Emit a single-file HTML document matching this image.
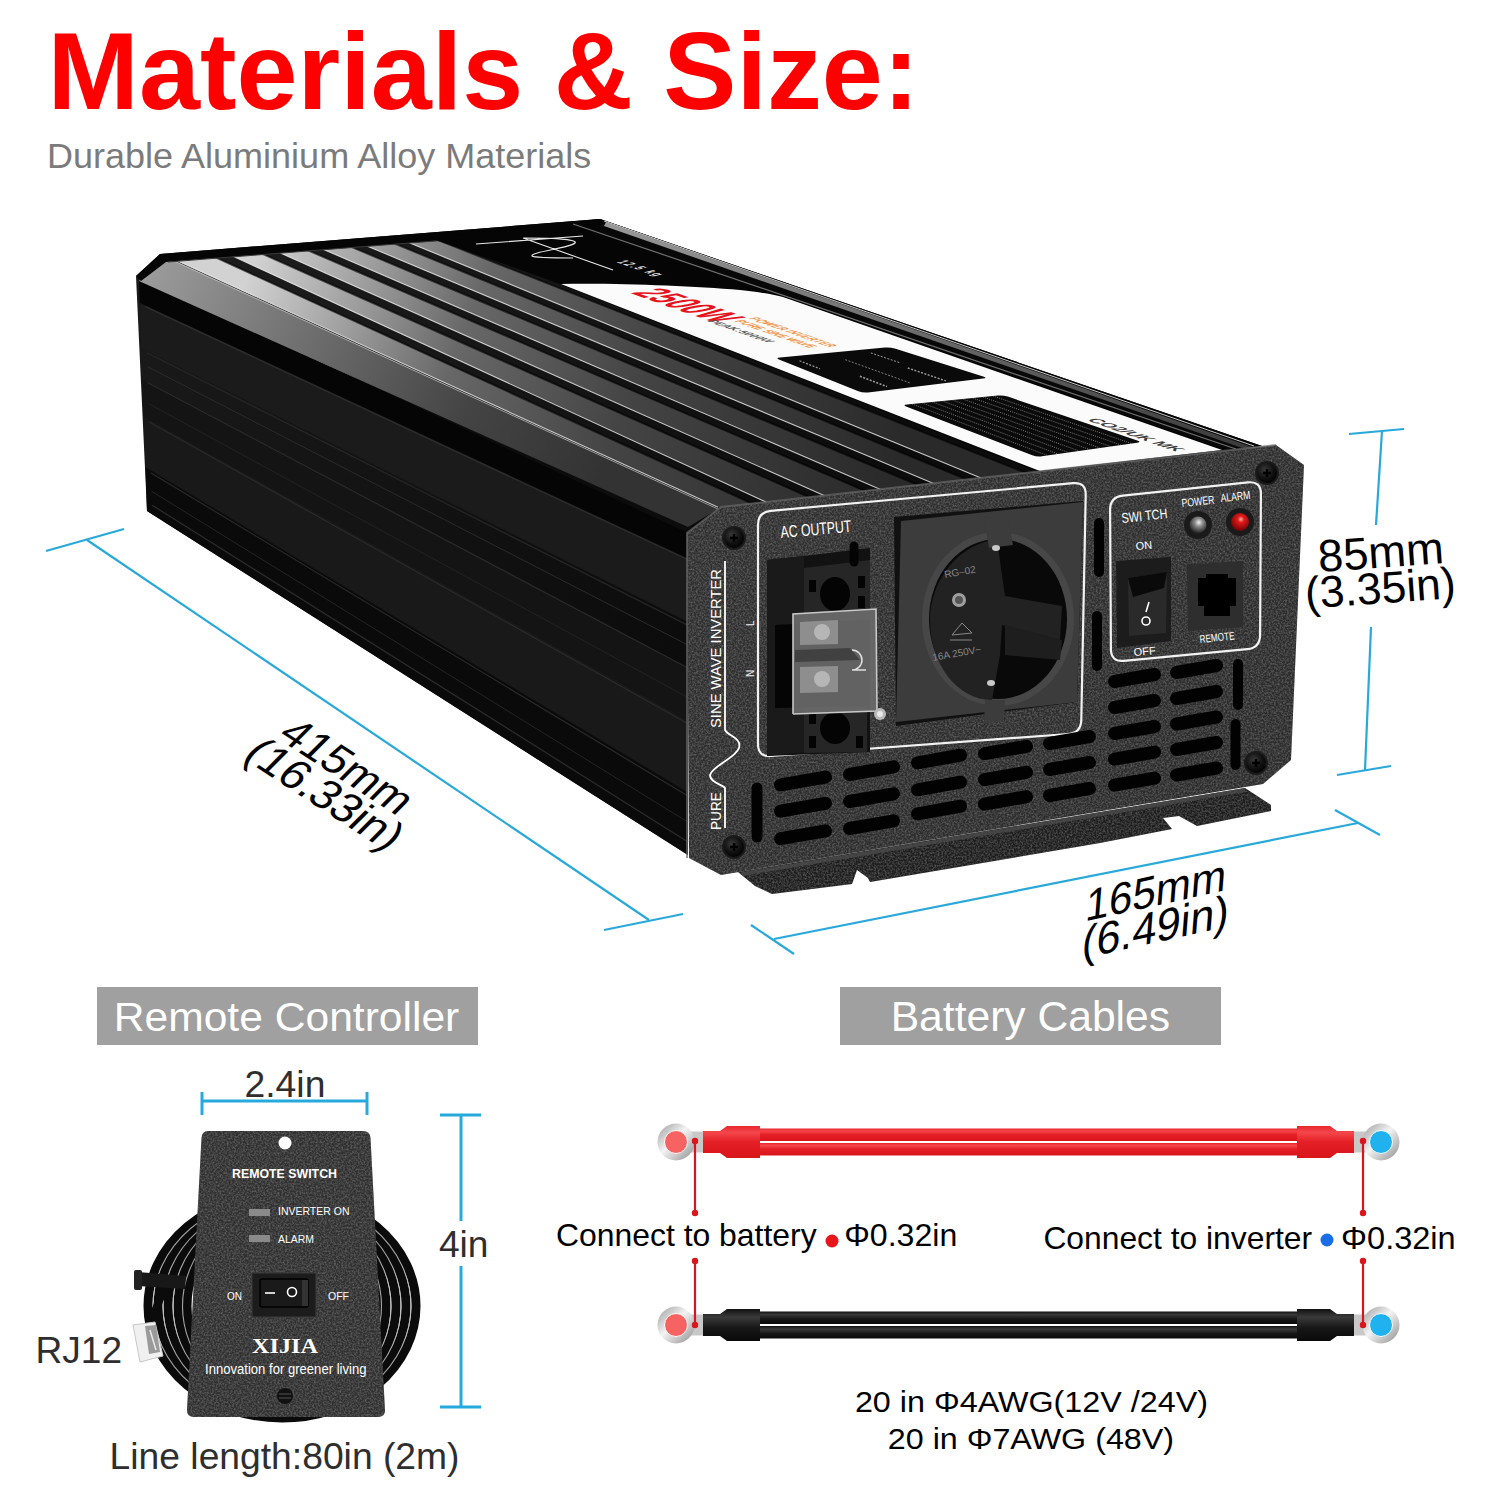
<!DOCTYPE html>
<html><head><meta charset="utf-8"><title>Materials &amp; Size</title>
<style>html,body{margin:0;padding:0;background:#fff;width:1500px;height:1500px;overflow:hidden}
svg{display:block;font-family:"Liberation Sans",sans-serif}</style></head>
<body><svg width="1500" height="1500" viewBox="0 0 1500 1500"><defs>
<linearGradient id="gSide" x1="0" y1="0" x2="1" y2="0.6">
 <stop offset="0" stop-color="#1a1a1a"/><stop offset="1" stop-color="#0c0c0c"/></linearGradient>
<linearGradient id="gPanel" x1="0" y1="0" x2="1" y2="1">
 <stop offset="0" stop-color="#2f2f2f"/><stop offset="1" stop-color="#2a2a2a"/></linearGradient>
<radialGradient id="gScrew" cx="0.4" cy="0.35" r="0.7">
 <stop offset="0" stop-color="#3a3a3a"/><stop offset="0.6" stop-color="#111"/><stop offset="1" stop-color="#000"/></radialGradient>
<linearGradient id="gRing" x1="0" y1="0" x2="1" y2="1">
 <stop offset="0" stop-color="#9a9a9a"/><stop offset="0.45" stop-color="#f4f4f4"/><stop offset="1" stop-color="#8d8d8d"/></linearGradient>
<linearGradient id="gRed" x1="0" y1="0" x2="0" y2="1">
 <stop offset="0" stop-color="#e8262c"/><stop offset="0.2" stop-color="#f4474b"/><stop offset="0.5" stop-color="#e41f25"/><stop offset="1" stop-color="#d8151b"/></linearGradient>
<linearGradient id="gBlk" x1="0" y1="0" x2="0" y2="1">
 <stop offset="0" stop-color="#111"/><stop offset="0.25" stop-color="#3a3a3a"/><stop offset="0.6" stop-color="#161616"/><stop offset="1" stop-color="#0a0a0a"/></linearGradient>
<radialGradient id="gRedLed" cx="0.55" cy="0.35" r="0.6">
 <stop offset="0" stop-color="#ffb0a0"/><stop offset="0.3" stop-color="#e31a1a"/><stop offset="1" stop-color="#7a0505"/></radialGradient>
<radialGradient id="gSilLed" cx="0.55" cy="0.35" r="0.6">
 <stop offset="0" stop-color="#f0f0f0"/><stop offset="0.4" stop-color="#8a8a8a"/><stop offset="1" stop-color="#2a2a2a"/></radialGradient>
<filter id="noise" x="0" y="0" width="100%" height="100%" color-interpolation-filters="sRGB">
 <feTurbulence type="fractalNoise" baseFrequency="0.55" numOctaves="2" seed="3" result="n"/>
 <feColorMatrix in="n" type="matrix" values="0 0 0 0 0.6  0 0 0 0 0.6  0 0 0 0 0.6  0 0 0 1 0" result="m0"/>
 <feComponentTransfer in="m0" result="m"><feFuncA type="linear" slope="0.9" intercept="-0.3"/></feComponentTransfer>
 <feComposite in="m" in2="SourceAlpha" operator="in" result="c"/>
 <feMerge><feMergeNode in="SourceGraphic"/><feMergeNode in="c"/></feMerge>
</filter>
</defs>
<text x="47.6" y="109.0" font-family="Liberation Sans" font-weight="bold" font-size="110.0" fill="#fe0000" textLength="871.8" lengthAdjust="spacingAndGlyphs">Materials &amp; Size:</text>
<text x="47.0" y="168.0" font-family="Liberation Sans" font-size="34.5" fill="#7b7b7b" textLength="544.2" lengthAdjust="spacingAndGlyphs">Durable Aluminium Alloy Materials</text>
<polygon points="136.0,276.0 147.0,511.0 688.0,855.0 688.0,533.0" fill="url(#gSide)"/>
<polygon points="139.0,281.0 688.0,527.0 688.0,558.5 139.8,303.1" fill="#050505"/>
<polygon points="139.8,303.1 688.0,558.5 688.0,622.1 141.3,347.7" fill="#1b1b1b"/>
<polygon points="142.4,379.9 688.0,668.0 688.0,720.5 143.7,416.7" fill="#141414"/>
<polygon points="143.7,416.7 688.0,720.5 688.0,792.7 145.5,467.3" fill="#191919"/>
<polygon points="145.5,467.3 688.0,792.7 688.0,855.0 147.0,511.0" fill="#0a0a0a"/>
<line x1="145.3" y1="306.6" x2="688.0" y2="559.8" stroke="#2e2e2e" stroke-width="1.2"/>
<line x1="146.9" y1="352.8" x2="688.0" y2="625.4" stroke="#262626" stroke-width="1.2"/>
<line x1="147.3" y1="366.6" x2="688.0" y2="645.1" stroke="#2a2a2a" stroke-width="1"/>
<line x1="147.9" y1="382.8" x2="688.0" y2="668.0" stroke="#2a2a2a" stroke-width="1.2"/>
<line x1="148.6" y1="403.6" x2="688.0" y2="697.6" stroke="#222" stroke-width="1"/>
<line x1="149.2" y1="422.0" x2="688.0" y2="723.8" stroke="#2a2a2a" stroke-width="1.2"/>
<line x1="151.0" y1="472.9" x2="688.0" y2="796.0" stroke="#2a2a2a" stroke-width="1.2"/>
<line x1="151.6" y1="491.3" x2="688.0" y2="822.2" stroke="#242424" stroke-width="1"/>
<line x1="152.1" y1="505.2" x2="688.0" y2="841.9" stroke="#2c2c2c" stroke-width="1.2"/>
<polygon points="136.0,276.0 160.0,254.0 600.0,219.0 1262.0,446.0 688.0,533.0" fill="#0c0c0c"/>
<linearGradient id="gFin" gradientUnits="userSpaceOnUse" x1="260" y1="245" x2="880" y2="500"><stop offset="0" stop-color="#d2d2d2"/><stop offset="0.14" stop-color="#a6a6a6"/><stop offset="0.33" stop-color="#686868"/><stop offset="0.6" stop-color="#444"/><stop offset="1" stop-color="#2a2a2a"/></linearGradient>
<linearGradient id="gFin0" gradientUnits="userSpaceOnUse" x1="150" y1="262" x2="600" y2="480"><stop offset="0" stop-color="#9c9c9c"/><stop offset="0.4" stop-color="#686868"/><stop offset="0.7" stop-color="#444"/><stop offset="1" stop-color="#333"/></linearGradient>
<linearGradient id="gGroove" gradientUnits="userSpaceOnUse" x1="260" y1="245" x2="880" y2="500"><stop offset="0" stop-color="#1c1c1c"/><stop offset="1" stop-color="#0c0c0c"/></linearGradient>
<polygon points="164.0,256.0 430.0,233.5 1036.0,471.8 718.0,509.0" fill="url(#gGroove)"/>
<polygon points="139.0,281.0 164.0,256.0 718.0,509.0 688.0,527.0" fill="url(#gFin0)"/>
<line x1="164" y1="256.5" x2="718" y2="509" stroke="#d0d0d0" stroke-width="1" opacity="0.7"/>
<polygon points="164.0,254.7 203.0,251.6 752.0,503.5 718.0,507.3" fill="url(#gFin)"/>
<line x1="164.0" y1="254.7" x2="718.0" y2="507.3" stroke="#f0f0f0" stroke-width="1.1" opacity="0.8"/>
<line x1="203.0" y1="251.6" x2="752.0" y2="503.5" stroke="#000" stroke-width="2" opacity="0.6"/>
<polygon points="220.0,250.2 249.0,247.9 809.0,497.2 766.0,502.0" fill="url(#gFin)"/>
<line x1="220.0" y1="250.2" x2="766.0" y2="502.0" stroke="#f0f0f0" stroke-width="1.1" opacity="0.8"/>
<line x1="249.0" y1="247.9" x2="809.0" y2="497.2" stroke="#000" stroke-width="2" opacity="0.6"/>
<polygon points="266.0,246.6 294.0,244.3 865.0,490.9 824.0,495.5" fill="url(#gFin)"/>
<line x1="266.0" y1="246.6" x2="824.0" y2="495.5" stroke="#f0f0f0" stroke-width="1.1" opacity="0.8"/>
<line x1="294.0" y1="244.3" x2="865.0" y2="490.9" stroke="#000" stroke-width="2" opacity="0.6"/>
<polygon points="309.0,243.2 337.0,240.9 918.0,485.0 880.0,489.2" fill="url(#gFin)"/>
<line x1="309.0" y1="243.2" x2="880.0" y2="489.2" stroke="#f0f0f0" stroke-width="1.1" opacity="0.8"/>
<line x1="337.0" y1="240.9" x2="918.0" y2="485.0" stroke="#000" stroke-width="2" opacity="0.6"/>
<polygon points="352.0,239.7 380.0,237.5 967.0,479.5 933.0,483.3" fill="url(#gFin)"/>
<line x1="352.0" y1="239.7" x2="933.0" y2="483.3" stroke="#f0f0f0" stroke-width="1.1" opacity="0.8"/>
<line x1="380.0" y1="237.5" x2="967.0" y2="479.5" stroke="#000" stroke-width="2" opacity="0.6"/>
<polygon points="394.0,236.4 423.0,234.1 1026.0,472.9 981.0,478.0" fill="url(#gFin)"/>
<line x1="394.0" y1="236.4" x2="981.0" y2="478.0" stroke="#f0f0f0" stroke-width="1.1" opacity="0.8"/>
<line x1="423.0" y1="234.1" x2="1026.0" y2="472.9" stroke="#000" stroke-width="2" opacity="0.6"/>
<polygon points="136,276 160,254 600,219 602,228 166,262 141,281" fill="#050505"/>
<line x1="168" y1="262" x2="600" y2="228" stroke="#3a3a3a" stroke-width="1"/>
<polygon points="430,238 600,219 1262,446 1036,471 561,284" fill="#050505"/>
<path d="M561,284 C620,283 690,286 740,290 C760,292 775,295 783,297 L1222,450 L1040,471 Z" fill="#fbfbfb"/>
<polygon points="600,219 1254,446 1232,452 600,233" fill="#080808"/>
<linearGradient id="gRail" gradientUnits="userSpaceOnUse" x1="600" y1="220" x2="1250" y2="447"><stop offset="0" stop-color="#9a9a9a"/><stop offset="0.5" stop-color="#6a6a6a"/><stop offset="1" stop-color="#3a3a3a"/></linearGradient>
<polygon points="606,222 1252,447 1248,450 604,226" fill="url(#gRail)"/>
<line x1="604" y1="221" x2="1254" y2="446" stroke="#c8c8c8" stroke-width="1"/>
<line x1="573" y1="224" x2="1236" y2="449" stroke="#8a8a8a" stroke-width="1.2" opacity="0.8"/>
<path d="M476,244 L583,236 M523,238 L613,270 M524,238 C560,238 578,240 575,243 C570,248 530,252 532,256 C534,258 560,258 573,258" stroke="#e6e6e6" stroke-width="1.1" fill="none"/>
<text transform="matrix(1.0,0.36,-1.5,0.35,616,262)" font-family="Liberation Sans" font-weight="bold" font-size="9" fill="#e0e0e0" letter-spacing="1.5">12.5 kg</text>
<g transform="matrix(1.36,0.48,-2.2,0.42,630,293)" font-family="Liberation Sans" font-weight="bold">
<text x="0" y="0" font-size="20" fill="#e5141b">2500W</text>
<text x="65" y="-13.5" font-size="5.5" fill="#f2913e" textLength="60" lengthAdjust="spacingAndGlyphs">POWER INVERTER</text>
<text x="65" y="-7" font-size="5.5" fill="#f2913e" textLength="56" lengthAdjust="spacingAndGlyphs">PURE SINE WAVE</text>
<text x="58" y="1" font-size="5" fill="#555" textLength="45" lengthAdjust="spacingAndGlyphs">PEAK:5000W</text>
</g>
<path d="M779.6,359.8 Q775.0,358.0 780.0,357.5 L885.0,347.5 Q890.0,347.0 894.8,348.5 L983.2,376.5 Q988.0,378.0 983.0,378.6 L868.0,392.4 Q863.0,393.0 858.4,391.2 Z" fill="#0a0a0a"/>
<path d="M906.7,406.8 Q902.0,405.0 907.0,404.5 L998.0,395.5 Q1003.0,395.0 1007.7,396.6 L1137.3,440.4 Q1142.0,442.0 1137.1,442.7 L1041.9,456.3 Q1037.0,457.0 1032.3,455.2 Z" fill="#0a0a0a"/>
<line x1="912.1" y1="404.0" x2="1047.5" y2="455.5" stroke="#c8c8c8" stroke-width="0.7" stroke-dasharray="1,1.2" opacity="0.85"/>
<line x1="922.2" y1="403.0" x2="1058.0" y2="454.0" stroke="#c8c8c8" stroke-width="0.7" stroke-dasharray="1,1.2" opacity="0.85"/>
<line x1="932.3" y1="402.0" x2="1068.5" y2="452.5" stroke="#c8c8c8" stroke-width="0.7" stroke-dasharray="1,1.2" opacity="0.85"/>
<line x1="942.4" y1="401.0" x2="1079.0" y2="451.0" stroke="#c8c8c8" stroke-width="0.7" stroke-dasharray="1,1.2" opacity="0.85"/>
<line x1="952.5" y1="400.0" x2="1089.5" y2="449.5" stroke="#c8c8c8" stroke-width="0.7" stroke-dasharray="1,1.2" opacity="0.85"/>
<line x1="962.6" y1="399.0" x2="1100.0" y2="448.0" stroke="#c8c8c8" stroke-width="0.7" stroke-dasharray="1,1.2" opacity="0.85"/>
<line x1="972.7" y1="398.0" x2="1110.5" y2="446.5" stroke="#c8c8c8" stroke-width="0.7" stroke-dasharray="1,1.2" opacity="0.85"/>
<line x1="982.8" y1="397.0" x2="1121.0" y2="445.0" stroke="#c8c8c8" stroke-width="0.7" stroke-dasharray="1,1.2" opacity="0.85"/>
<line x1="992.9" y1="396.0" x2="1131.5" y2="443.5" stroke="#c8c8c8" stroke-width="0.7" stroke-dasharray="1,1.2" opacity="0.85"/>
<line x1="799.5" y1="360.8" x2="820.0" y2="368.8" stroke="#bdbdbd" stroke-width="1.2" stroke-dasharray="2,1.5" opacity="0.8"/>
<line x1="845.2" y1="359.7" x2="910.0" y2="382.9" stroke="#bdbdbd" stroke-width="0.8" stroke-dasharray="2,1.5" opacity="0.8"/>
<line x1="907.8" y1="368.0" x2="945.8" y2="380.9" stroke="#bdbdbd" stroke-width="1.4" stroke-dasharray="2,1.5" opacity="0.8"/>
<line x1="870.8" y1="352.9" x2="899.5" y2="362.6" stroke="#bdbdbd" stroke-width="1.0" stroke-dasharray="2,1.5" opacity="0.8"/>
<line x1="859.9" y1="376.3" x2="887.0" y2="386.5" stroke="#bdbdbd" stroke-width="1.6" stroke-dasharray="2,1.5" opacity="0.8"/>
<text transform="matrix(1.36,0.48,-2.2,0.42,1086,420)" font-family="Liberation Sans" font-weight="bold" font-size="7" fill="#3c3c3c" textLength="66" lengthAdjust="spacingAndGlyphs">CO2/UK MK</text>
<polygon points="738.0,872.0 1245.0,788.0 1271.0,805.0 1271.0,811.0 1197.0,826.0 1179.0,816.0 1163.0,818.0 1172.0,829.0 1100.0,843.0 870.0,882.0 868.0,878.0 857.0,870.0 852.0,884.0 772.0,894.0 755.0,886.0" fill="#1c1c1c" filter="url(#noise)"/>
<polyline points="742,874 1245,790" stroke="#4a4a4a" stroke-width="4" fill="none" opacity="0.8"/>
<polygon points="687.0,533.0 721.0,507.0 1276.0,445.0 1304.0,465.0 1291.0,760.0 1263.0,784.0 721.0,875.0 689.0,858.0" fill="url(#gPanel)" filter="url(#noise)"/>
<polyline points="687,858 687,533 721,507 1276,445" stroke="#6a6a6a" stroke-width="2" fill="none" opacity="0.7"/>
<circle cx="734" cy="538" r="12" fill="#1a1a1a"/><circle cx="734" cy="538" r="10" fill="url(#gScrew)"/>
<path d="M730,538 h8 M734,534 v8" stroke="#000" stroke-width="2.5"/>
<circle cx="1267" cy="473" r="12" fill="#1a1a1a"/><circle cx="1267" cy="473" r="10" fill="url(#gScrew)"/>
<path d="M1263,473 h8 M1267,469 v8" stroke="#000" stroke-width="2.5"/>
<circle cx="734" cy="847" r="12" fill="#1a1a1a"/><circle cx="734" cy="847" r="10" fill="url(#gScrew)"/>
<path d="M730,847 h8 M734,843 v8" stroke="#000" stroke-width="2.5"/>
<circle cx="1256" cy="763" r="12" fill="#1a1a1a"/><circle cx="1256" cy="763" r="10" fill="url(#gScrew)"/>
<path d="M1252,763 h8 M1256,759 v8" stroke="#000" stroke-width="2.5"/>
<path d="M758.0,525.0 Q758.0,512.0 770.9,510.8 L1073.1,483.2 Q1086.0,482.0 1085.7,495.0 L1081.3,720.0 Q1081.0,733.0 1068.0,734.0 L771.0,756.0 Q758.0,757.0 758.0,744.0 Z" fill="none" stroke="#f2f2f2" stroke-width="2.2"/>
<text transform="translate(781,538) rotate(-5)" font-family="Liberation Sans" font-size="17" fill="#fff" textLength="71" lengthAdjust="spacingAndGlyphs">AC  OUTPUT</text>
<polygon points="767,560 804,556 870,548 870,752 767,756" fill="#121212"/>
<polygon points="767,560 804,556 804,752 767,756" fill="#1a1a1a"/>
<polygon points="804,568 870,560 870,620 804,622" fill="#262626"/>
<polygon points="804,706 867,703 867,752 804,753" fill="#262626"/>
<ellipse cx="835" cy="594" rx="15" ry="17" fill="#040404"/><ellipse cx="835" cy="728" rx="15" ry="16" fill="#040404"/>
<rect x="809" y="580" width="7" height="12" fill="#040404"/><rect x="858" y="576" width="7" height="12" fill="#040404"/><rect x="858" y="596" width="7" height="12" fill="#040404"/>
<rect x="809" y="736" width="7" height="12" fill="#040404"/><rect x="856" y="736" width="7" height="12" fill="#040404"/><rect x="809" y="714" width="7" height="10" fill="#040404"/>
<polygon points="775,625 870,620 870,706 775,708" fill="#050505"/>
<line x1="854" y1="546" x2="854" y2="562" stroke="#040404" stroke-width="9" stroke-linecap="round"/>
<polygon points="793,614 876,609 877,711 793,714" fill="#6a6a6a" opacity="0.92"/>
<polyline points="793,714 793,614 876,609 877,711 793,714" fill="none" stroke="#c8c8c8" stroke-width="1.6"/>
<polygon points="800,622 838,620 838,644 800,645" fill="#9a9a9a" opacity="0.8"/><polygon points="800,667 838,666 838,692 800,693" fill="#9a9a9a" opacity="0.8"/>
<circle cx="822" cy="632" r="8" fill="#c0c0c0" opacity="0.8"/><circle cx="822" cy="679" r="8" fill="#c0c0c0" opacity="0.8"/>
<polygon points="795,650 850,648 860,660 795,662" fill="#3a3a3a" opacity="0.8"/>
<path d="M852,650 a10,10 0 1 1 0,20 h14" stroke="#e0e0e0" stroke-width="1.5" fill="none"/>
<circle cx="880" cy="714" r="6" fill="#b8b8b8"/><circle cx="880" cy="714" r="3" fill="#e8e8e8"/>
<text transform="translate(754,626) rotate(-90)" font-family="Liberation Sans" font-size="10" fill="#eee">L</text>
<text transform="translate(754,677) rotate(-90)" font-family="Liberation Sans" font-size="10" fill="#eee">N</text>
<polygon points="894,517 1083,501 1077,702 896,726" fill="#111"/>
<polygon points="901,521 1083,502 1077,702 896,722" fill="#3c3c3c"/>
<ellipse cx="998" cy="619" rx="76" ry="87" fill="#474747"/>
<ellipse cx="998" cy="619" rx="69" ry="80" fill="#090909"/>
<path d="M997,540 C960,542 930,580 930,620 C930,665 958,700 992,700 L1000,655 L1002,625 L1060,640 L1062,606 L1005,596 Z" fill="#222"/>
<polygon points="984,518 1008,516 1013,545 989,548" fill="#3c3c3c"/>
<polygon points="985,700 1005,700 1004,720 984,723" fill="#3c3c3c"/>
<polygon points="1005,625 1062,640 1060,660 1005,655" fill="#1e1e1e"/>
<circle cx="959" cy="600" r="7" fill="#a0a0a0"/><circle cx="959" cy="600" r="4" fill="#555"/>
<ellipse cx="996" cy="548" rx="4" ry="3" fill="#c8c8c8"/><ellipse cx="991" cy="683" rx="4" ry="3" fill="#c8c8c8"/>
<text transform="translate(945,578) rotate(-10)" font-family="Liberation Sans" font-size="10" fill="#888">RG–02</text>
<text transform="translate(933,661) rotate(-10)" font-family="Liberation Sans" font-size="10" fill="#888">16A  250V~</text>
<path d="M952,635 l10,-12 l10,10 z M950,640 h22" stroke="#888" stroke-width="1" fill="none"/>
<path d="M1110.1,510.0 Q1110.0,497.0 1122.9,495.6 L1248.1,482.4 Q1261.0,481.0 1260.9,494.0 L1260.1,635.0 Q1260.0,648.0 1247.1,649.2 L1123.9,660.8 Q1111.0,662.0 1110.9,649.0 Z" fill="none" stroke="#f2f2f2" stroke-width="2.2"/>
<text transform="translate(1122,523) rotate(-6)" font-family="Liberation Sans" fill="#fff" font-size="14" textLength="46" lengthAdjust="spacingAndGlyphs">SWI TCH</text>
<text transform="translate(1182,507) rotate(-6)" font-family="Liberation Sans" fill="#fff" font-size="11.5" textLength="33" lengthAdjust="spacingAndGlyphs">POWER</text>
<text transform="translate(1221,502) rotate(-6)" font-family="Liberation Sans" fill="#fff" font-size="11.5" textLength="30" lengthAdjust="spacingAndGlyphs">ALARM</text>
<circle cx="1198" cy="525" r="14" fill="#1a1a1a"/><circle cx="1198" cy="525" r="8.5" fill="url(#gSilLed)"/>
<circle cx="1240" cy="522" r="14" fill="#1a1a1a"/><circle cx="1240" cy="522" r="9" fill="url(#gRedLed)"/>
<text transform="translate(1136,550) rotate(-5)" font-family="Liberation Sans" fill="#fff" font-size="11">ON</text>
<text transform="translate(1134,656) rotate(-5)" font-family="Liberation Sans" fill="#fff" font-size="11">OFF</text>
<text transform="translate(1200,643) rotate(-6)" font-family="Liberation Sans" fill="#fff" font-size="11" textLength="35" lengthAdjust="spacingAndGlyphs">REMOTE</text>
<polygon points="1116,561 1171,557 1171,641 1117,648" fill="#1c1c1c"/>
<polygon points="1128,578 1167,572 1166,633 1129,636" fill="#2a2a2a"/>
<polygon points="1128,578 1167,572 1164,588 1133,597" fill="#0a0a0a"/>
<line x1="1149" y1="602" x2="1146" y2="612" stroke="#fff" stroke-width="1.6"/>
<circle cx="1146" cy="621" r="4" fill="none" stroke="#fff" stroke-width="1.6"/>
<polygon points="1187,565 1243,561 1243,627 1188,631" fill="#2e2e2e"/>
<path d="M1198,578 h8 v-4 h22 v4 h8 v28 h-6 v10 h-26 v-10 h-6 Z" fill="#000"/>
<text transform="translate(721,728) rotate(-90)" font-family="Liberation Sans" font-size="15" fill="#fff" textLength="159" lengthAdjust="spacingAndGlyphs">SINE  WAVE  INVERTER</text>
<text transform="translate(721,830) rotate(-90)" font-family="Liberation Sans" font-size="15" fill="#fff" textLength="38" lengthAdjust="spacingAndGlyphs">PURE</text>
<path d="M725,561 V730 C728,736 742,738 739,748 C736,758 712,766 710,775 C710,783 724,785 725,788 V828" stroke="#fff" stroke-width="1.8" fill="none"/>
<line x1="780.5" y1="784.9" x2="825.5" y2="777.1" stroke="#020202" stroke-width="13" stroke-linecap="round"/>
<line x1="780.5" y1="811.1" x2="825.5" y2="803.3" stroke="#020202" stroke-width="13" stroke-linecap="round"/>
<line x1="780.5" y1="838.7" x2="825.5" y2="830.9" stroke="#020202" stroke-width="13" stroke-linecap="round"/>
<line x1="849.5" y1="774.5" x2="893.5" y2="766.8" stroke="#020202" stroke-width="13" stroke-linecap="round"/>
<line x1="849.5" y1="801.5" x2="893.5" y2="793.8" stroke="#020202" stroke-width="13" stroke-linecap="round"/>
<line x1="849.5" y1="828.5" x2="893.5" y2="820.8" stroke="#020202" stroke-width="13" stroke-linecap="round"/>
<line x1="917.5" y1="762.8" x2="960.5" y2="755.2" stroke="#020202" stroke-width="13" stroke-linecap="round"/>
<line x1="917.5" y1="789.8" x2="960.5" y2="782.2" stroke="#020202" stroke-width="13" stroke-linecap="round"/>
<line x1="917.5" y1="813.8" x2="960.5" y2="806.2" stroke="#020202" stroke-width="13" stroke-linecap="round"/>
<line x1="984.5" y1="753.7" x2="1026.5" y2="746.3" stroke="#020202" stroke-width="13" stroke-linecap="round"/>
<line x1="984.5" y1="779.7" x2="1026.5" y2="772.3" stroke="#020202" stroke-width="13" stroke-linecap="round"/>
<line x1="984.5" y1="804.1" x2="1026.5" y2="796.7" stroke="#020202" stroke-width="13" stroke-linecap="round"/>
<line x1="1049.5" y1="743.5" x2="1089.5" y2="736.5" stroke="#020202" stroke-width="13" stroke-linecap="round"/>
<line x1="1049.5" y1="769.5" x2="1089.5" y2="762.5" stroke="#020202" stroke-width="13" stroke-linecap="round"/>
<line x1="1049.5" y1="795.5" x2="1089.5" y2="788.5" stroke="#020202" stroke-width="13" stroke-linecap="round"/>
<line x1="1114.5" y1="681.5" x2="1154.5" y2="674.5" stroke="#020202" stroke-width="13" stroke-linecap="round"/>
<line x1="1114.5" y1="707.5" x2="1154.5" y2="700.5" stroke="#020202" stroke-width="13" stroke-linecap="round"/>
<line x1="1114.5" y1="733.5" x2="1154.5" y2="726.5" stroke="#020202" stroke-width="13" stroke-linecap="round"/>
<line x1="1114.5" y1="759.1" x2="1154.5" y2="752.1" stroke="#020202" stroke-width="13" stroke-linecap="round"/>
<line x1="1114.5" y1="785.2" x2="1154.5" y2="778.2" stroke="#020202" stroke-width="13" stroke-linecap="round"/>
<line x1="1176.5" y1="672.5" x2="1216.5" y2="665.5" stroke="#020202" stroke-width="13" stroke-linecap="round"/>
<line x1="1176.5" y1="698.5" x2="1216.5" y2="691.5" stroke="#020202" stroke-width="13" stroke-linecap="round"/>
<line x1="1176.5" y1="724.0" x2="1216.5" y2="717.0" stroke="#020202" stroke-width="13" stroke-linecap="round"/>
<line x1="1176.5" y1="749.5" x2="1216.5" y2="742.5" stroke="#020202" stroke-width="13" stroke-linecap="round"/>
<line x1="1176.5" y1="775.0" x2="1216.5" y2="768.0" stroke="#020202" stroke-width="13" stroke-linecap="round"/>
<line x1="757.0" y1="788" x2="757.0" y2="837" stroke="#020202" stroke-width="11" stroke-linecap="round"/>
<line x1="1238.0" y1="664" x2="1238.0" y2="705" stroke="#020202" stroke-width="10" stroke-linecap="round"/>
<line x1="1235.5" y1="724" x2="1235.5" y2="765" stroke="#020202" stroke-width="10" stroke-linecap="round"/>
<line x1="1099.0" y1="523" x2="1099.0" y2="572" stroke="#020202" stroke-width="10" stroke-linecap="round"/>
<line x1="1097.0" y1="616" x2="1097.0" y2="666" stroke="#020202" stroke-width="10" stroke-linecap="round"/>
<line x1="46" y1="551" x2="124" y2="529" stroke="#29a8da" stroke-width="2.2"/>
<line x1="87" y1="540" x2="649" y2="920" stroke="#29a8da" stroke-width="2.2"/>
<line x1="604" y1="930" x2="683" y2="914" stroke="#29a8da" stroke-width="2.2"/>
<line x1="751" y1="925" x2="794" y2="954" stroke="#29a8da" stroke-width="2.2"/>
<line x1="774" y1="939" x2="1358" y2="823" stroke="#29a8da" stroke-width="2.2"/>
<line x1="1335" y1="810" x2="1380" y2="835" stroke="#29a8da" stroke-width="2.2"/>
<line x1="1349" y1="434" x2="1404" y2="429" stroke="#29a8da" stroke-width="2.2"/>
<line x1="1382" y1="431" x2="1376" y2="525" stroke="#29a8da" stroke-width="2.2"/>
<line x1="1371" y1="627" x2="1365" y2="770" stroke="#29a8da" stroke-width="2.2"/>
<line x1="1337" y1="775" x2="1391" y2="766" stroke="#29a8da" stroke-width="2.2"/>
<text transform="translate(276.0,737.5) rotate(33) skewX(-12)" font-family="Liberation Sans" fill="#000" font-size="43.4">415mm</text>
<text transform="translate(241.5,757.5) rotate(33) skewX(-12)" font-family="Liberation Sans" fill="#000" font-size="44">(16.33in)</text>
<text transform="translate(1084.5,921.5) rotate(-12.5) skewX(-17)" font-family="Liberation Sans" fill="#000" font-size="43.2">165mm</text>
<text transform="translate(1081,959) rotate(-12.5) skewX(-17)" font-family="Liberation Sans" fill="#000" font-size="44.3">(6.49in)</text>
<text transform="translate(1319,572) rotate(-4)" font-family="Liberation Sans" fill="#000" font-size="45.3">85mm</text>
<text transform="translate(1306,608.5) rotate(-4)" font-family="Liberation Sans" fill="#000" font-size="44.5">(3.35in)</text>
<rect x="97" y="987" width="381" height="58" fill="#a0a0a0"/>
<text x="113.8" y="1031.3" font-family="Liberation Sans" font-size="41.5" fill="#fff" textLength="345.5" lengthAdjust="spacingAndGlyphs">Remote Controller</text>
<rect x="840" y="987" width="381" height="58" fill="#a0a0a0"/>
<text x="890.7" y="1031.0" font-family="Liberation Sans" font-size="42.0" fill="#fff" textLength="279.4" lengthAdjust="spacingAndGlyphs">Battery Cables</text>
<text x="244.5" y="1097.0" font-family="Liberation Sans" font-size="37.0" fill="#2e2e2e" textLength="80.9" lengthAdjust="spacingAndGlyphs">2.4in</text>
<line x1="202" y1="1101" x2="367" y2="1101" stroke="#26a9dd" stroke-width="3"/><line x1="202" y1="1092" x2="202" y2="1115" stroke="#26a9dd" stroke-width="3"/><line x1="367" y1="1092" x2="367" y2="1115" stroke="#26a9dd" stroke-width="3"/>
<line x1="461" y1="1115" x2="461" y2="1221" stroke="#26a9dd" stroke-width="3"/><line x1="461" y1="1266" x2="461" y2="1407" stroke="#26a9dd" stroke-width="3"/><line x1="440" y1="1115" x2="481" y2="1115" stroke="#26a9dd" stroke-width="3"/><line x1="440" y1="1407" x2="481" y2="1407" stroke="#26a9dd" stroke-width="3"/>
<text x="438.9" y="1256.8" font-family="Liberation Sans" font-size="37.3" fill="#2e2e2e" textLength="49.6" lengthAdjust="spacingAndGlyphs">4in</text>
<text x="35.5" y="1363.0" font-family="Liberation Sans" font-size="37.0" fill="#2e2e2e" textLength="86.6" lengthAdjust="spacingAndGlyphs">RJ12</text>
<text x="109.6" y="1468.6" font-family="Liberation Sans" font-size="36.5" fill="#2e2e2e" textLength="349.9" lengthAdjust="spacingAndGlyphs">Line length:80in (2m)</text>
<ellipse cx="282" cy="1306" rx="134" ry="112" fill="none" stroke="#0b0b0b" stroke-width="9"/>
<ellipse cx="282" cy="1306" rx="124" ry="108" fill="none" stroke="#0b0b0b" stroke-width="9"/>
<ellipse cx="282" cy="1306" rx="114" ry="104" fill="none" stroke="#0b0b0b" stroke-width="9"/>
<ellipse cx="282" cy="1306" rx="104" ry="100" fill="none" stroke="#0b0b0b" stroke-width="9"/>
<ellipse cx="282" cy="1306" rx="95" ry="96" fill="none" stroke="#0b0b0b" stroke-width="9"/>
<ellipse cx="282" cy="1306" rx="129.0" ry="110" fill="none" stroke="#b8b8b8" stroke-width="1.1" opacity="0.85"/>
<ellipse cx="282" cy="1306" rx="119.0" ry="106" fill="none" stroke="#b8b8b8" stroke-width="1.1" opacity="0.85"/>
<ellipse cx="282" cy="1306" rx="109.0" ry="102" fill="none" stroke="#b8b8b8" stroke-width="1.1" opacity="0.85"/>
<ellipse cx="282" cy="1306" rx="99.5" ry="98" fill="none" stroke="#b8b8b8" stroke-width="1.1" opacity="0.85"/>
<path d="M168,1282 C158,1300 152,1318 150,1335" stroke="#0b0b0b" stroke-width="8" fill="none"/>
<path d="M138,1272 L186,1276 L185,1289 L137,1286 Z" fill="#181818"/><rect x="134" y="1270" width="8" height="20" rx="2" fill="#222"/>
<polygon points="133,1325 155,1322 163,1356 140,1362" fill="#f0f0f0" stroke="#c8c8c8" stroke-width="1"/>
<polygon points="145,1326 156,1325 160,1352 149,1354" fill="#9a9a9a"/>
<line x1="150" y1="1330" x2="156" y2="1350" stroke="#e8e8e8" stroke-width="1.5"/>
<path d="M208,1131 L363,1131 Q370,1131 370.5,1138 L385,1410 Q385.5,1417 378,1417 L194,1417 Q186.5,1417 187,1410 L201.5,1138 Q202,1131 208,1131 Z" fill="#2f2f2f" filter="url(#noise)"/>
<circle cx="285" cy="1143" r="6.5" fill="#fff"/>
<text x="232" y="1178" font-family="Liberation Sans" font-weight="bold" font-size="13" fill="#fff" textLength="105" lengthAdjust="spacingAndGlyphs">REMOTE SWITCH</text>
<rect x="249" y="1209" width="21" height="7" fill="#8a8a8a"/><rect x="249" y="1235" width="21" height="7" fill="#8a8a8a"/>
<text x="278" y="1214.5" font-family="Liberation Sans" font-size="11" fill="#fff" textLength="71.5" lengthAdjust="spacingAndGlyphs">INVERTER ON</text>
<text x="278" y="1242.7" font-family="Liberation Sans" font-size="11" fill="#fff" textLength="36" lengthAdjust="spacingAndGlyphs">ALARM</text>
<rect x="252" y="1273" width="64" height="44" fill="#1c1c1c" stroke="#3a3a3a" stroke-width="1"/>
<rect x="260" y="1279" width="48" height="28" rx="2" fill="#1a1a1a" stroke="#000" stroke-width="1.5"/>
<rect x="302" y="1280" width="6" height="26" fill="#333"/>
<line x1="265" y1="1293" x2="275" y2="1293" stroke="#fff" stroke-width="1.6"/><circle cx="292" cy="1292" r="4.5" fill="none" stroke="#fff" stroke-width="1.6"/>
<text x="227" y="1299.7" font-family="Liberation Sans" font-size="11" fill="#fff" textLength="15" lengthAdjust="spacingAndGlyphs">ON</text>
<text x="328" y="1299.7" font-family="Liberation Sans" font-size="11" fill="#fff" textLength="21" lengthAdjust="spacingAndGlyphs">OFF</text>
<text x="252" y="1353" font-family="Liberation Serif" font-weight="bold" font-size="20" fill="#fff" textLength="66" lengthAdjust="spacingAndGlyphs">XIJIA</text>
<text x="205" y="1374" font-family="Liberation Sans" font-size="14" fill="#fff" textLength="161.5" lengthAdjust="spacingAndGlyphs">Innovation for greener living</text>
<circle cx="285" cy="1396" r="8" fill="#111"/><line x1="279" y1="1394" x2="291" y2="1394" stroke="#555" stroke-width="1"/><line x1="279" y1="1398" x2="291" y2="1398" stroke="#555" stroke-width="1"/>
<rect x="758" y="1128.5" width="542" height="12.5" fill="url(#gRed)"/><rect x="758" y="1143.0" width="542" height="12.5" fill="url(#gRed)"/><path d="M703,1131.0 H720 L727,1126.0 H760 V1158.0 H727 L720,1153.0 H703 Z" fill="url(#gRed)"/><path d="M1354,1131.0 H1337 L1330,1126.0 H1297 V1158.0 H1330 L1337,1153.0 H1354 Z" fill="url(#gRed)"/><rect x="690" y="1131.5" width="13" height="21" fill="#c8c8c8"/><circle cx="676" cy="1142.0" r="18.5" fill="url(#gRing)"/><circle cx="676" cy="1142.0" r="11.5" fill="#f76262" stroke="#fff" stroke-width="1"/><rect x="1354" y="1131.5" width="14" height="21" fill="#c8c8c8"/><circle cx="1381" cy="1142.0" r="18.5" fill="url(#gRing)"/><circle cx="1381" cy="1142.0" r="11.5" fill="#1fb2ee" stroke="#fff" stroke-width="1"/>
<rect x="758" y="1311.5" width="542" height="12.5" fill="url(#gBlk)"/><rect x="758" y="1326.0" width="542" height="12.5" fill="url(#gBlk)"/><path d="M703,1314.0 H720 L727,1309.0 H760 V1341.0 H727 L720,1336.0 H703 Z" fill="url(#gBlk)"/><path d="M1354,1314.0 H1337 L1330,1309.0 H1297 V1341.0 H1330 L1337,1336.0 H1354 Z" fill="url(#gBlk)"/><rect x="690" y="1314.5" width="13" height="21" fill="#c8c8c8"/><circle cx="676" cy="1325.0" r="18.5" fill="url(#gRing)"/><circle cx="676" cy="1325.0" r="11.5" fill="#f76262" stroke="#fff" stroke-width="1"/><rect x="1354" y="1314.5" width="14" height="21" fill="#c8c8c8"/><circle cx="1381" cy="1325.0" r="18.5" fill="url(#gRing)"/><circle cx="1381" cy="1325.0" r="11.5" fill="#1fb2ee" stroke="#fff" stroke-width="1"/>
<line x1="695" y1="1141" x2="695" y2="1213" stroke="#d9161c" stroke-width="2.2"/><circle cx="695" cy="1141" r="3.2" fill="#d9161c"/><circle cx="695" cy="1213" r="3.2" fill="#d9161c"/>
<line x1="695" y1="1261" x2="695" y2="1325" stroke="#d9161c" stroke-width="2.2"/><circle cx="695" cy="1261" r="3.2" fill="#d9161c"/><circle cx="695" cy="1325" r="3.2" fill="#d9161c"/>
<line x1="1363" y1="1141" x2="1363" y2="1213" stroke="#d9161c" stroke-width="2.2"/><circle cx="1363" cy="1141" r="3.2" fill="#d9161c"/><circle cx="1363" cy="1213" r="3.2" fill="#d9161c"/>
<line x1="1363" y1="1261" x2="1363" y2="1325" stroke="#d9161c" stroke-width="2.2"/><circle cx="1363" cy="1261" r="3.2" fill="#d9161c"/><circle cx="1363" cy="1325" r="3.2" fill="#d9161c"/>
<text x="556.0" y="1246.4" font-family="Liberation Sans" font-size="31.5" fill="#000" textLength="260.6" lengthAdjust="spacingAndGlyphs">Connect to battery</text>
<circle cx="832" cy="1241" r="6.5" fill="#e8151b"/>
<text x="844.2" y="1246.4" font-family="Liberation Sans" font-size="31.5" fill="#000" textLength="113.1" lengthAdjust="spacingAndGlyphs">Φ0.32in</text>
<text x="1043.4" y="1248.7" font-family="Liberation Sans" font-size="31.5" fill="#000" textLength="268.7" lengthAdjust="spacingAndGlyphs">Connect to inverter</text>
<circle cx="1327" cy="1240" r="6.5" fill="#1a6ee8"/>
<text x="1341.1" y="1248.7" font-family="Liberation Sans" font-size="31.5" fill="#000" textLength="114.6" lengthAdjust="spacingAndGlyphs">Φ0.32in</text>
<text x="854.9" y="1411.8" font-family="Liberation Sans" font-size="30.0" fill="#000" textLength="353.1" lengthAdjust="spacingAndGlyphs">20 in Φ4AWG(12V /24V)</text>
<text x="887.8" y="1449.0" font-family="Liberation Sans" font-size="30.0" fill="#000" textLength="286.2" lengthAdjust="spacingAndGlyphs">20 in Φ7AWG (48V)</text></svg></body></html>
